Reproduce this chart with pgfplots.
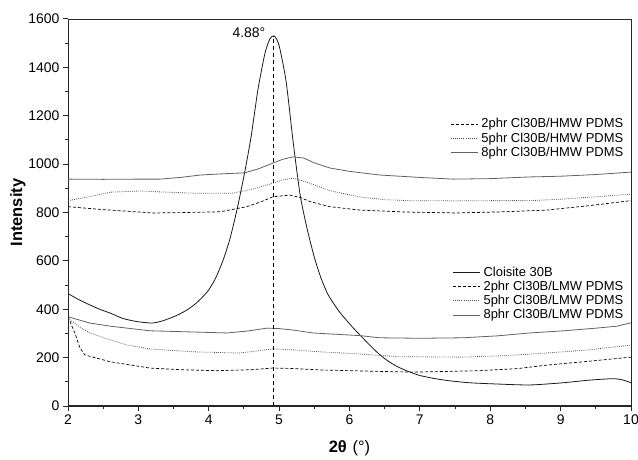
\documentclass[border=0pt]{standalone}
\usepackage{fontspec}
\setmainfont{Liberation Sans}
\usepackage{pgfplots}
\pgfplotsset{compat=1.18}
\usetikzlibrary{calc}

\pgfplotsset{
  xrd/.style={
    scale only axis, width=563bp, height=387bp,
    xmin=2, xmax=10, ymin=0, ymax=1600,
  },
  dsh/.style={black, line width=0.7pt, dash pattern=on 3pt off 2pt},
  dot/.style={black!70, line width=0.8pt, dash pattern=on 0.8pt off 1.3pt},
  sol/.style={black!62, line width=0.8pt},
  lgd/.style={
    legend cell align=left,
    legend style={draw=none, fill=none, inner sep=0pt, row sep=2.2bp,
      column sep=2.5bp,
      font=\fontsize{13}{15.5}\selectfont,
      nodes={inner sep=0.6bp}},
    legend image code/.code={\draw[##1] (0bp,0bp) -- (27bp,0bp);},
  },
}

\begin{document}
\begin{tikzpicture}
\begin{axis}[xrd, lgd, name=ax,
  axis line style={line width=0.9pt, black!85},
  tick pos=left, tick align=outside,
  major tick length=5bp, minor tick length=3bp,
  tick style={line width=1pt, black!85},
  xtick={2,...,10}, minor x tick num=1,
  ytick={0,200,...,1600}, minor y tick num=1,
  /pgf/number format/assume math mode=true,
  /pgf/number format/1000 sep={},
  tick label style={font=\fontsize{14}{16}\selectfont},
  xlabel={\textbf{2θ}\hspace{0.35em}(°)},
  ylabel={\textbf{Intensity}},
  label style={font=\fontsize{16.5}{18}\selectfont},
  xlabel style={yshift=-9bp},
  ylabel style={yshift=-4bp},
  legend style={at={(0.9876,0.362)}, anchor=north east},
]
\addplot[black!90, line width=0.8pt, smooth, tension=0.4] coordinates {
(2.0,465) (2.15,440) (2.31,418) (2.45,400) (2.6,384) (2.78,362) (2.98,349)
(3.19,343) (3.32,350) (3.45,363) (3.57,378) (3.69,397) (3.8,420) (3.9,447)
(4.0,480) (4.1,530) (4.2,600) (4.3,690) (4.4,810) (4.5,950) (4.6,1110)
(4.7,1310) (4.8,1460) (4.87,1518) (4.93,1530) (5.0,1490) (5.1,1340)
(5.2,1090) (5.3,870) (5.4,730) (5.5,615) (5.6,525) (5.7,458)
(5.85,392) (6.0,340) (6.1,308) (6.2,278) (6.3,248) (6.4,220) (6.5,196)
(6.6,176) (6.7,160) (6.8,147) (6.9,136) (7.0,126) (7.2,114) (7.4,105)
(7.71,96) (8.09,91) (8.56,87) (9.03,96)
(9.41,107) (9.74,113) (9.88,108) (10.0,96)};
\addplot[dsh] coordinates {
(2,369) (2.1,300) (2.17,240) (2.24,211) (2.6,183) (3.16,157) (3.6,150)
(4.12,146) (4.6,150) (4.91,157) (5.2,155) (5.58,149) (6.15,145) (6.9,140)
(7.85,146) (8.4,155) (8.8,169) (9.4,185) (10,202)};
\addplot[dot] coordinates {
(2,362) (2.15,330) (2.31,302) (2.55,278) (2.84,252) (3.16,236) (3.78,224)
(4.44,219) (4.7,228) (4.91,236) (5.2,232) (5.58,224) (6.15,215) (6.67,204)
(7.61,202) (8.2,208) (8.8,219) (9.4,232) (10,252)};
\addplot[sol] coordinates {
(2,369) (2.31,343) (2.6,330) (2.84,322) (3.16,311) (3.78,306) (4.26,302)
(4.55,310) (4.83,322) (5.0,320) (5.2,314) (5.48,302) (5.72,298) (6.15,291)
(6.43,282) (7.0,280) (7.61,282) (8.1,290) (8.56,302) (9.0,310) (9.51,322)
(9.8,330) (10,344)};
\legend{Cloisite 30B, 2phr Cl30B/LMW PDMS, 5phr Cl30B/LMW PDMS, 8phr Cl30B/LMW PDMS}
\addplot[forget plot, black, line width=0.7pt, dash pattern=on 4pt off 3pt]
  coordinates {(4.92,0) (4.92,1530)};
\node[font=\fontsize{14}{16}\selectfont] at (axis cs:4.57,1542) {4.88°};
\draw[line width=1.6pt, black!85] (rel axis cs:0,1) -- (rel axis cs:0,0) -- (rel axis cs:1,0);
\end{axis}

\begin{axis}[xrd, lgd, hide axis,
  legend style={at={(0.9876,0.745)}, anchor=north east},
]
\addplot[dsh] coordinates {
(2,824) (2.5,812) (3.21,798) (3.7,800) (4.16,803) (4.54,824) (4.75,845)
(4.91,865) (5.15,872) (5.3,862) (5.44,845) (5.72,824) (6.15,810) (6.8,802)
(7.52,798) (8.2,803) (8.8,810) (9.4,828) (10,849)};
\addplot[dot] coordinates {
(2,849) (2.3,865) (2.6,884) (3.02,889) (3.4,884) (3.78,880) (4.34,880)
(4.6,895) (4.91,921) (5.05,935) (5.2,942) (5.4,925) (5.58,905) (5.72,890)
(6.15,864) (6.5,853) (6.86,849) (7.5,848) (8.0,849) (8.56,849) (9.0,855)
(9.5,865) (10,876)};
\addplot[sol] coordinates {
(2,938) (2.5,937) (3,938) (3.31,938) (3.6,945) (3.88,955) (4.2,960)
(4.51,964) (4.7,980) (4.91,1004) (5.05,1020) (5.2,1030) (5.35,1025)
(5.5,1005) (5.72,984) (6.0,970) (6.43,955) (7.0,945) (7.47,938) (8.0,940)
(8.56,947) (9.0,950) (9.5,957) (10,967)};
\legend{2phr Cl30B/HMW PDMS, 5phr Cl30B/HMW PDMS, 8phr Cl30B/HMW PDMS}
\end{axis}

\pgfresetboundingbox
\path[use as bounding box] ($(ax.south west)+(-68bp,-53bp)$) rectangle ($(ax.north east)+(7bp,19bp)$);
\end{tikzpicture}
\end{document}
